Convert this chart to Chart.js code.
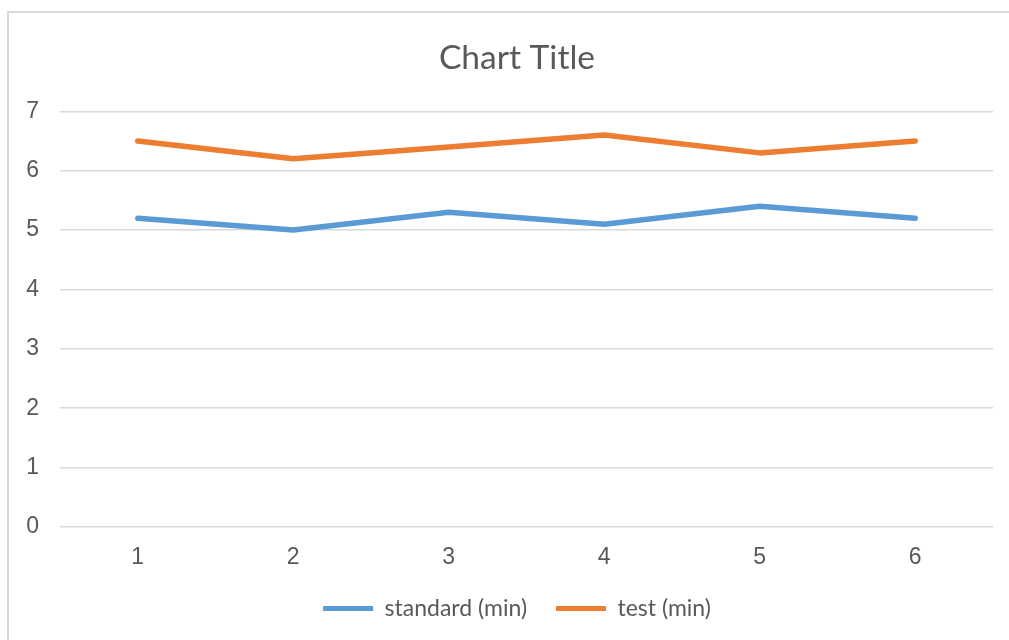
<!DOCTYPE html>
<html>
<head>
<meta charset="utf-8">
<script src="https://cdn.jsdelivr.net/npm/chart.js@4"></script>
<style>
  html, body { margin: 0; padding: 0; background: #fff; overflow: hidden; }
  #frame {
    position: absolute; left: 7px; top: 11px;
    width: 1030px; height: 640px;
    border-left: 2px solid #d9d9d9; border-top: 2px solid #d9d9d9;
    background: #fff;
  }
  #wrap { position: absolute; left: 0; top: 0; width: 1016px; height: 617px; }
</style>
</head>
<body>
<div id="frame"><div id="wrap"><canvas id="chart"></canvas></div></div>
<script>
// values
const categories = ['1', '2', '3', '4', '5', '6'];
const standardMin = [5.2, 5.0, 5.3, 5.1, 5.4, 5.2];
const testMin = [6.5, 6.2, 6.4, 6.6, 6.3, 6.5];

const blue = '#5b9bd5';
const orange = '#ed7d31';
const textGrey = '#595959';
const gridGrey = '#d9d9d9';

const ctx = document.getElementById('chart').getContext('2d');
const chart = new Chart(ctx, {
    type: 'line',
    data: {
        labels: categories,
        datasets: [{
            label: 'standard (min)',
            data: standardMin,
            borderColor: blue,
            backgroundColor: blue
        }, {
            label: 'test (min)',
            data: testMin,
            borderColor: orange,
            backgroundColor: orange
        }]
    },
    options: {
        responsive: true,
        maintainAspectRatio: false,
        devicePixelRatio: 1,
        animation: false,
        layout: {
            padding: 0
        },
        elements: {
            point: { radius: 0, hoverRadius: 0 },
            line: { borderWidth: 5.5, tension: 0, borderCapStyle: 'round', borderJoinStyle: 'round' }
        },
        plugins: {
            title: {
                display: true,
                text: 'Chart Title',
                color: textGrey,
                font: { family: 'Lato', size: 33.6, weight: 'normal' },
                padding: { top: 25, bottom: 33 }
            },
            legend: {
                position: 'bottom',
                labels: {
                    color: textGrey,
                    font: { family: 'Lato', size: 23 },
                    boxWidth: 50,
                    boxHeight: 5,
                    useBorderRadius: true,
                    borderRadius: 2.5,
                    padding: 29,
                    generateLabels: (c) => c.data.datasets.map((ds, i) => ({
                        text: ds.label,
                        fillStyle: ds.borderColor,
                        strokeStyle: ds.borderColor,
                        lineWidth: 0,
                        fontColor: textGrey,
                        datasetIndex: i
                    }))
                }
            },
            tooltip: { enabled: false }
        },
        scales: {
            x: {
                offset: true,
                grid: { display: false },
                border: { display: false },
                ticks: {
                    color: textGrey,
                    font: { family: 'Liberation Sans', size: 23 },
                    padding: 9
                },
                afterFit: (scale) => { scale.height = 41; }
            },
            y: {
                min: 0,
                max: 7,
                grid: { color: gridGrey, lineWidth: 1.5, drawTicks: false },
                border: { display: false },
                ticks: {
                    stepSize: 1,
                    color: textGrey,
                    font: { family: 'Liberation Sans', size: 23 },
                    padding: 21
                },
                afterFit: (scale) => { scale.width = 51; }
            },
            // empty strip on the right: the original chart runs past the picture's edge
            spacer: {
                type: 'linear',
                position: 'right',
                grid: { display: false },
                border: { display: false },
                ticks: { display: false },
                afterFit: (scale) => { scale.width = 32; }
            }
        }
    }
});
</script>
</body>
</html>
